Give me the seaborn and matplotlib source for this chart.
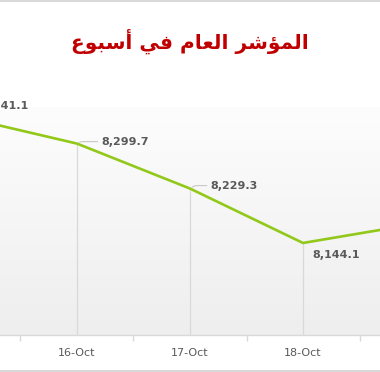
import numpy as np
import pandas as pd
import matplotlib
matplotlib.use("Agg")
import matplotlib.pyplot as plt
from matplotlib.lines import Line2D
from matplotlib.colors import LinearSegmentedColormap
import seaborn as sns

# ---- data ----
dates = ["15-Oct", "16-Oct", "17-Oct", "18-Oct", "19-Oct"]
values = [8341.1, 8299.7, 8229.3, 8144.1, 8174.0]
labels = ["8,341.1", "8,299.7", "8,229.3", "8,144.1", "8,174.0"]
title = "المؤشر العام في أسبوع"

# ---- minimal Arabic shaping (matplotlib has no complex text layout) ----
FORMS = {  # isolated, final, initial, medial
    'ا': ('\uFE8D', '\uFE8E', None, None),
    'أ': ('\uFE83', '\uFE84', None, None),
    'ؤ': ('\uFE85', '\uFE86', None, None),
    'ب': ('\uFE8F', '\uFE90', '\uFE91', '\uFE92'),
    'ر': ('\uFEAD', '\uFEAE', None, None),
    'س': ('\uFEB1', '\uFEB2', '\uFEB3', '\uFEB4'),
    'ش': ('\uFEB5', '\uFEB6', '\uFEB7', '\uFEB8'),
    'ع': ('\uFEC9', '\uFECA', '\uFECB', '\uFECC'),
    'ف': ('\uFED1', '\uFED2', '\uFED3', '\uFED4'),
    'ل': ('\uFEDD', '\uFEDE', '\uFEDF', '\uFEE0'),
    'م': ('\uFEE1', '\uFEE2', '\uFEE3', '\uFEE4'),
    'و': ('\uFEED', '\uFEEE', None, None),
    'ي': ('\uFEF1', '\uFEF2', '\uFEF3', '\uFEF4'),
}


def shape(text):
    out = []
    for i, c in enumerate(text):
        if c not in FORMS:
            out.append(c)
            continue
        prev = text[i - 1] if i > 0 else ''
        nxt = text[i + 1] if i + 1 < len(text) else ''
        jp = prev in FORMS and FORMS[prev][2] is not None
        jn = nxt in FORMS and FORMS[c][2] is not None
        iso, fin, ini, med = FORMS[c]
        if jp and jn:
            out.append(med)
        elif jp:
            out.append(fin)
        elif jn:
            out.append(ini)
        else:
            out.append(iso)
    return ''.join(reversed(out))


sns.set_theme(style="white")
plt.rcParams['font.family'] = ['DejaVu Sans']

W, H = 380, 372
fig = plt.figure(figsize=(W / 100, H / 100), dpi=100)
fig.patch.set_facecolor("white")

ax_bottom_px, ax_top_px = 335, 107
ax = fig.add_axes([0, 1 - ax_bottom_px / H, 1, (ax_bottom_px - ax_top_px) / H])
ax.set_facecolor("white")

pos = np.arange(len(dates))
df = pd.DataFrame({"pos": pos, "value": values})

# drop lines
ax.vlines(pos, 8000, values, colors="#d9d9d9", linewidth=0.9, zorder=1)

sns.lineplot(data=df, x="pos", y="value", sort=False, color="#92C81A",
             linewidth=1.9, ax=ax, zorder=3)

# gradient background of plot area
grad = np.linspace(0, 1, 256).reshape(-1, 1)
cmap = LinearSegmentedColormap.from_list("g", ["#fdfdfd", "#eeeeee"])
ax.imshow(grad, extent=[0, 1, 0, 1], transform=ax.transAxes, aspect='auto',
          cmap=cmap, zorder=0, interpolation='bilinear')

# data labels with leader lines (the last label lies outside the visible crop)
offsets = [(17, 11), (24, 2), (20, 3), (9, -12)]
leader = [True, True, True, False]
for xi, v, lab, off, ld in zip(pos, values, labels, offsets, leader):
    ap = dict(arrowstyle='-', color='#c8c8c8', lw=0.8, shrinkA=0, shrinkB=2,
              connectionstyle="angle,angleA=0,angleB=35,rad=3") if ld else None
    ax.annotate(lab, xy=(xi, v), xytext=off, textcoords='offset pixels',
                ha='left', va='center', fontsize=8, fontweight='bold',
                color='#595959', annotation_clip=False, arrowprops=ap, zorder=4)

# axes styling
for s in ['top', 'left', 'right']:
    ax.spines[s].set_visible(False)
ax.spines['bottom'].set_color('#d9d9d9')
ax.spines['bottom'].set_linewidth(1.0)
ax.set_yticks([])
ax.set_xlabel("")
ax.set_ylabel("")
ax.set_xticks(pos)
ax.set_xticklabels(dates)
ax.tick_params(axis='x', which='major', length=0, pad=9, labelsize=8, labelcolor='#595959')
ax.set_xticks(pos[:-1] + 0.5, minor=True)
ax.tick_params(axis='x', which='minor', length=4, width=1, color='#d9d9d9', direction='out', bottom=True)

ax.set_xlim(0.3186, 3.6814)
ax.set_ylim(8000, 8357)

# title
fig.text(0.5, 1 - 41 / H, shape(title), ha='center', va='center', fontsize=14.5,
         fontweight='bold', color='#C00000')

# chart border lines
fig.add_artist(Line2D([0, 1], [1 - 1 / H, 1 - 1 / H], color='#d9d9d9', lw=1.5, transform=fig.transFigure))
fig.add_artist(Line2D([0, 1], [1.5 / H, 1.5 / H], color='#d9d9d9', lw=1.5, transform=fig.transFigure))

fig.savefig("out.png", dpi=100)
